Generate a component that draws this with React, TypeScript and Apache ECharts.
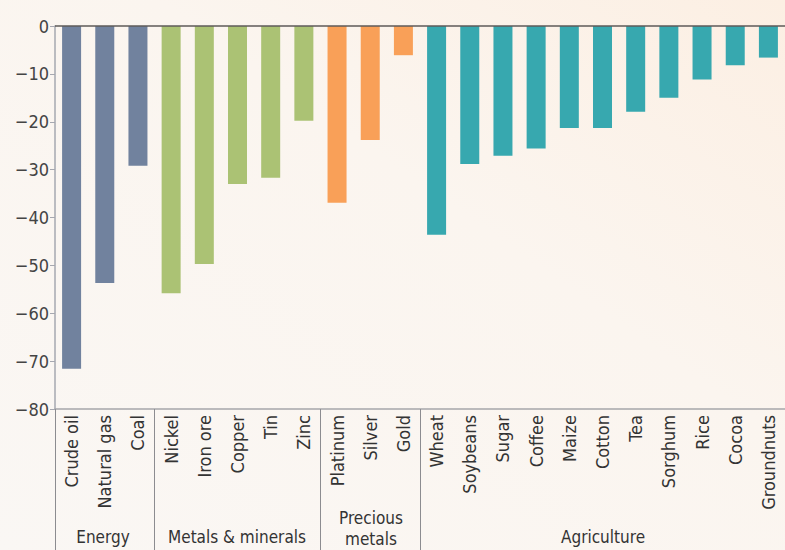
import React, { useEffect, useRef } from "react";
import * as echarts from "echarts";

const categories = [
  "Crude oil", "Natural gas", "Coal",
  "Nickel", "Iron ore", "Copper", "Tin", "Zinc",
  "Platinum", "Silver", "Gold",
  "Wheat", "Soybeans", "Sugar", "Coffee", "Maize", "Cotton", "Tea", "Sorghum", "Rice", "Cocoa", "Groundnuts",
];
const values = [
  -71.6, -53.7, -29.2,
  -55.8, -49.7, -33.0, -31.7, -19.8,
  -36.9, -23.8, -6.1,
  -43.6, -28.8, -27.1, -25.6, -21.3, -21.3, -17.9, -15.0, -11.2, -8.2, -6.6,
];
const groupOf = [0, 0, 0, 1, 1, 1, 1, 1, 2, 2, 2, 3, 3, 3, 3, 3, 3, 3, 3, 3, 3, 3];
const groupColors = ["#71829e", "#abc274", "#f9a058", "#37a8af"];
const groupNames = ["Energy", "Metals & minerals", "Precious\nmetals", "Agriculture"];
const groupStarts = [0, 3, 8, 11];
const yTicks = { min: -80, max: 0, interval: 10 };

const FONT = "'Liberation Sans Narrow', 'DejaVu Sans Condensed', 'Roboto Condensed', sans-serif";

export default function App() {
  const ref = useRef<HTMLDivElement>(null);
  useEffect(() => {
    if (!ref.current) return;
    const chart = echarts.init(ref.current, null, { renderer: "svg" });
    const groupX = [103, 237, 371, 603];
    const groupY = [537, 537, 528, 537];
    chart.setOption({
      animation: false,
      backgroundColor: new echarts.graphic.LinearGradient(0, 1, 1, 0, [
        { offset: 0, color: "#faf7f4" },
        { offset: 0.6, color: "#fbf5ef" },
        { offset: 1, color: "#fcefe3" },
      ]),
      grid: { left: 55, right: -2, top: 26, bottom: 141, containLabel: false },
      xAxis: {
        type: "category",
        data: categories,
        position: "bottom",
        axisLine: { show: true, onZero: false, lineStyle: { color: "#a6a6aa", width: 1.5 } },
        axisTick: {
          show: true,
          alignWithLabel: false,
          length: 150,
          interval: (i: number) => groupStarts.includes(i),
          lineStyle: { color: "#8c8c90", width: 1 },
        },
        axisLabel: {
          rotate: 90,
          interval: 0,
          margin: 6,
          fontFamily: FONT,
          fontSize: 18,
          color: "#333333",
        },
      },
      yAxis: {
        type: "value",
        min: yTicks.min,
        max: yTicks.max,
        interval: yTicks.interval,
        splitLine: { show: false },
        axisLine: { show: true, lineStyle: { color: "#a6a8b0", width: 1.5 } },
        axisTick: { show: true, length: 5, lineStyle: { color: "#a6a8b0" } },
        axisLabel: {
          margin: 6,
          fontFamily: FONT,
          fontSize: 18,
          color: "#444444",
          formatter: (v: number) => String(v).replace("-", "\u2212"),
        },
      },
      series: [
        {
          type: "bar",
          barWidth: 19,
          data: values.map((v, i) => ({
            value: v,
            itemStyle: { color: groupColors[groupOf[i]] },
          })),
          markLine: {
            silent: true,
            symbol: ["none", "none"],
            label: { show: false },
            lineStyle: { color: "#5e5a58", width: 1.5, type: "solid" },
            data: [{ yAxis: 0 }],
          },
        },
      ],
      graphic: groupNames.map((name, g) => ({
        type: "text",
        x: groupX[g],
        y: groupY[g],
        style: {
          text: name,
          fontFamily: FONT,
          fontSize: 17,
          fill: "#333333",
          align: "center",
          verticalAlign: "middle",
          lineHeight: 21,
        },
      })),
    });
    return () => chart.dispose();
  }, []);
  return (
    <div
      ref={ref}
      style={{ position: "absolute", left: 0, top: 0, width: 785, height: 550 }}
    />
  );
}
